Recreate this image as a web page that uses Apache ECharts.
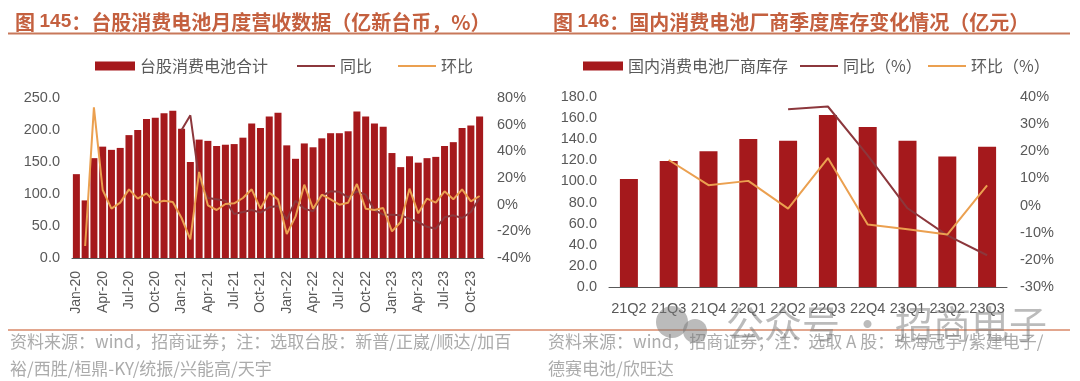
<!DOCTYPE html>
<html>
<head>
<meta charset="utf-8">
<script src="https://cdn.jsdelivr.net/npm/echarts@6/dist/echarts.min.js"></script>
<style>
html,body{margin:0;padding:0;background:#fff;}
#c{width:1080px;height:381px;}
</style>
</head>
<body>
<div id="c"></div>
<script>
// ---- Left chart data (亿新台币, %) ----
const monthLabels = ['Jan-20','Feb-20','Mar-20','Apr-20','May-20','Jun-20','Jul-20','Aug-20','Sep-20','Oct-20','Nov-20','Dec-20',
  'Jan-21','Feb-21','Mar-21','Apr-21','May-21','Jun-21','Jul-21','Aug-21','Sep-21','Oct-21','Nov-21','Dec-21',
  'Jan-22','Feb-22','Mar-22','Apr-22','May-22','Jun-22','Jul-22','Aug-22','Sep-22','Oct-22','Nov-22','Dec-22',
  'Jan-23','Feb-23','Mar-23','Apr-23','May-23','Jun-23','Jul-23','Aug-23','Sep-23','Oct-23','Nov-23'];
const revenue = [131,90,156,174,169,172,192,200,217,219,226,230,
  202,150,185,183,175,177,178,188,210,203,221,227,
  176,155,179,173,187,195,195,198,229,221,210,205,
  164,142,159,149,156,158,175,181,203,207,221];
const revenueYoy = [null,null,null,null,null,null,null,null,null,null,null,null,
  56,67,19,5,4,3,-7,-5.5,-4,-6,-2,-1,
  -11,3,-3,-5,6.5,10,9.6,5.5,10,7.5,-4,-7.5,
  -7.5,-8,-10.5,-13,-16.6,-18,-9.5,-8,-10,-5.5,5];
const revenueMom = [null,-31,73,11,-3,1.5,11.5,4.5,8.5,1.5,3,2,
  -10,-26,24.5,-0.5,-4,0.5,1,5,11.5,-3,9,4,
  -22,-9,15,-3,7.5,4,0,1.5,15.5,-3,-4,-2.5,
  -20,-13,12,-6.5,4.6,1.5,10,4,11.5,2.5,6.5];

// ---- Right chart data (亿元, %) ----
const quarters = ['21Q2','21Q3','21Q4','22Q1','22Q2','22Q3','22Q4','23Q1','23Q2','23Q3'];
const inventory = [102.3,119.4,128.5,140.2,138.6,163.0,151.6,138.6,123.7,132.9];
const inventoryYoy = [null,null,null,null,35.5,36.5,18.5,-1,-11,-18.3];
const inventoryQoq = [null,16.8,7.5,9.1,-1.1,17.5,-7,-8.7,-10.7,7.4];

const BAR = '#A5191C', DARK = '#8C373C', ORANGE = '#EBA050';
const AXIS = '#595959';
const FONT = "'Liberation Sans', Arial, 'Noto Sans CJK SC', sans-serif";
const CJK = "'Noto Sans CJK SC', 'Liberation Sans', sans-serif";
const TITLE = '#C4603F';

function legendItem(name, left, isRect) {
  return {
    data: [name], left: left, top: 53, icon: 'rect',
    itemWidth: isRect ? 40 : 38, itemHeight: isRect ? 9 : 2,
    itemGap: 0, selectedMode: false,
    textStyle: {fontSize: 16, color: AXIS, fontFamily: CJK}
  };
}

const chart = echarts.init(document.getElementById('c'), null, {renderer: 'canvas'});
chart.setOption({
  animation: false,
  backgroundColor: '#fff',
  textStyle: {fontFamily: FONT},
  title: [
    {left: 10, top: 7, text: '{n|图 }{b|145}{n|：台股消费电池月度营收数据（亿新台币，%）}',
     textStyle: {rich: {n: {fontFamily: CJK, fontSize: 20, fontWeight: 'bold', color: TITLE},
                        b: {fontFamily: "'Liberation Sans', Arial, sans-serif", fontSize: 19, fontWeight: 'bold', color: TITLE}}}},
    {left: 548, top: 7, text: '{n|图 }{b|146}{n|：国内消费电池厂商季度库存变化情况（亿元）}',
     textStyle: {rich: {n: {fontFamily: CJK, fontSize: 20, fontWeight: 'bold', color: TITLE},
                        b: {fontFamily: "'Liberation Sans', Arial, sans-serif", fontSize: 19, fontWeight: 'bold', color: TITLE}}}}
  ],
  legend: [
    legendItem('台股消费电池合计', 90, true),
    legendItem('同比', 292, false),
    legendItem('环比', 393, false),
    legendItem('国内消费电池厂商库存', 578, true),
    legendItem('同比（%）', 795, false),
    legendItem('环比（%）', 923, false)
  ],
  grid: [
    {left: 72, top: 98, width: 412, height: 160},
    {left: 609, top: 97, width: 398, height: 190}
  ],
  xAxis: [
    {type: 'category', gridIndex: 0, data: monthLabels, boundaryGap: true,
     axisLine: {lineStyle: {color: AXIS, width: 1}},
     axisTick: {inside: true, length: 5, interval: 2, lineStyle: {color: AXIS}},
     axisLabel: {interval: 2, rotate: 90, fontSize: 14, color: AXIS, margin: 13, fontFamily: FONT}},
    {type: 'category', gridIndex: 1, data: quarters, boundaryGap: true,
     axisLine: {lineStyle: {color: AXIS, width: 1}},
     axisTick: {inside: true, length: 5, interval: 0, lineStyle: {color: AXIS}},
     axisLabel: {interval: 0, fontSize: 14.5, color: AXIS, margin: 15, fontFamily: FONT}}
  ],
  yAxis: [
    {type: 'value', gridIndex: 0, min: 0, max: 250, interval: 50,
     axisLine: {show: false}, axisTick: {show: false}, splitLine: {show: false},
     axisLabel: {fontSize: 14.5, color: AXIS, margin: 12, formatter: v => v.toFixed(1)}},
    {type: 'value', gridIndex: 0, position: 'right', min: -40, max: 80, interval: 20,
     axisLine: {show: false}, axisTick: {show: false}, splitLine: {show: false},
     axisLabel: {fontSize: 14.5, color: AXIS, margin: 13, formatter: '{value}%'}},
    {type: 'value', gridIndex: 1, min: 0, max: 180, interval: 20,
     axisLine: {show: false}, axisTick: {show: false}, splitLine: {show: false},
     axisLabel: {fontSize: 14.5, color: AXIS, margin: 12, formatter: v => v.toFixed(1)}},
    {type: 'value', gridIndex: 1, position: 'right', min: -30, max: 40, interval: 10,
     axisLine: {show: false}, axisTick: {show: false}, splitLine: {show: false},
     axisLabel: {fontSize: 14.5, color: AXIS, margin: 13, formatter: '{value}%'}}
  ],
  series: [
    {name: '台股消费电池合计', type: 'bar', xAxisIndex: 0, yAxisIndex: 0, data: revenue,
     barCategoryGap: '20%', itemStyle: {color: BAR}},
    {name: '同比', type: 'line', xAxisIndex: 0, yAxisIndex: 1, data: revenueYoy,
     symbol: 'none', lineStyle: {color: DARK, width: 2}, itemStyle: {color: DARK}},
    {name: '环比', type: 'line', xAxisIndex: 0, yAxisIndex: 1, data: revenueMom,
     symbol: 'none', lineStyle: {color: ORANGE, width: 2}, itemStyle: {color: ORANGE}},
    {name: '国内消费电池厂商库存', type: 'bar', xAxisIndex: 1, yAxisIndex: 2, data: inventory,
     barWidth: 18, itemStyle: {color: BAR}},
    {name: '同比（%）', type: 'line', xAxisIndex: 1, yAxisIndex: 3, data: inventoryYoy,
     symbol: 'none', lineStyle: {color: DARK, width: 2}, itemStyle: {color: DARK}},
    {name: '环比（%）', type: 'line', xAxisIndex: 1, yAxisIndex: 3, data: inventoryQoq,
     symbol: 'none', lineStyle: {color: ORANGE, width: 2}, itemStyle: {color: ORANGE}}
  ],
  graphic: [
    {type: 'line', shape: {x1: 8, y1: 33.5, x2: 1070, y2: 33.5}, style: {stroke: '#C8785A', lineWidth: 2}},
    {type: 'line', shape: {x1: 8, y1: 330, x2: 1070, y2: 330}, style: {stroke: '#D98868', lineWidth: 1.5}},
    {type: 'text', left: 10, top: 328, style: {text: '资料来源：wind，招商证券；注：选取台股：新普/正崴/顺达/加百\n裕/西胜/桓鼎-KY/统振/兴能高/天宇',
      fontSize: 17, lineHeight: 27, fill: '#ABABAB', fontFamily: CJK}},
    {type: 'text', left: 548, top: 328, style: {text: '资料来源：wind，招商证券；注：选取 A 股：珠海冠宇/紫建电子/\n德赛电池/欣旺达',
      fontSize: 17, lineHeight: 27, fill: '#ABABAB', fontFamily: CJK}},
    {type: 'circle', shape: {cx: 672, cy: 322, r: 16}, style: {fill: 'rgba(120,120,120,0.5)'}, z: 100},
    {type: 'circle', shape: {cx: 695, cy: 331, r: 12}, style: {fill: 'rgba(120,120,120,0.5)'}, z: 100},
    {type: 'text', left: 726, top: 305, z: 100, style: {text: '公众号 · 招商电子', fontSize: 38,
      fill: 'rgba(120,120,120,0.5)', fontFamily: CJK}}
  ]
});
</script>
</body>
</html>
